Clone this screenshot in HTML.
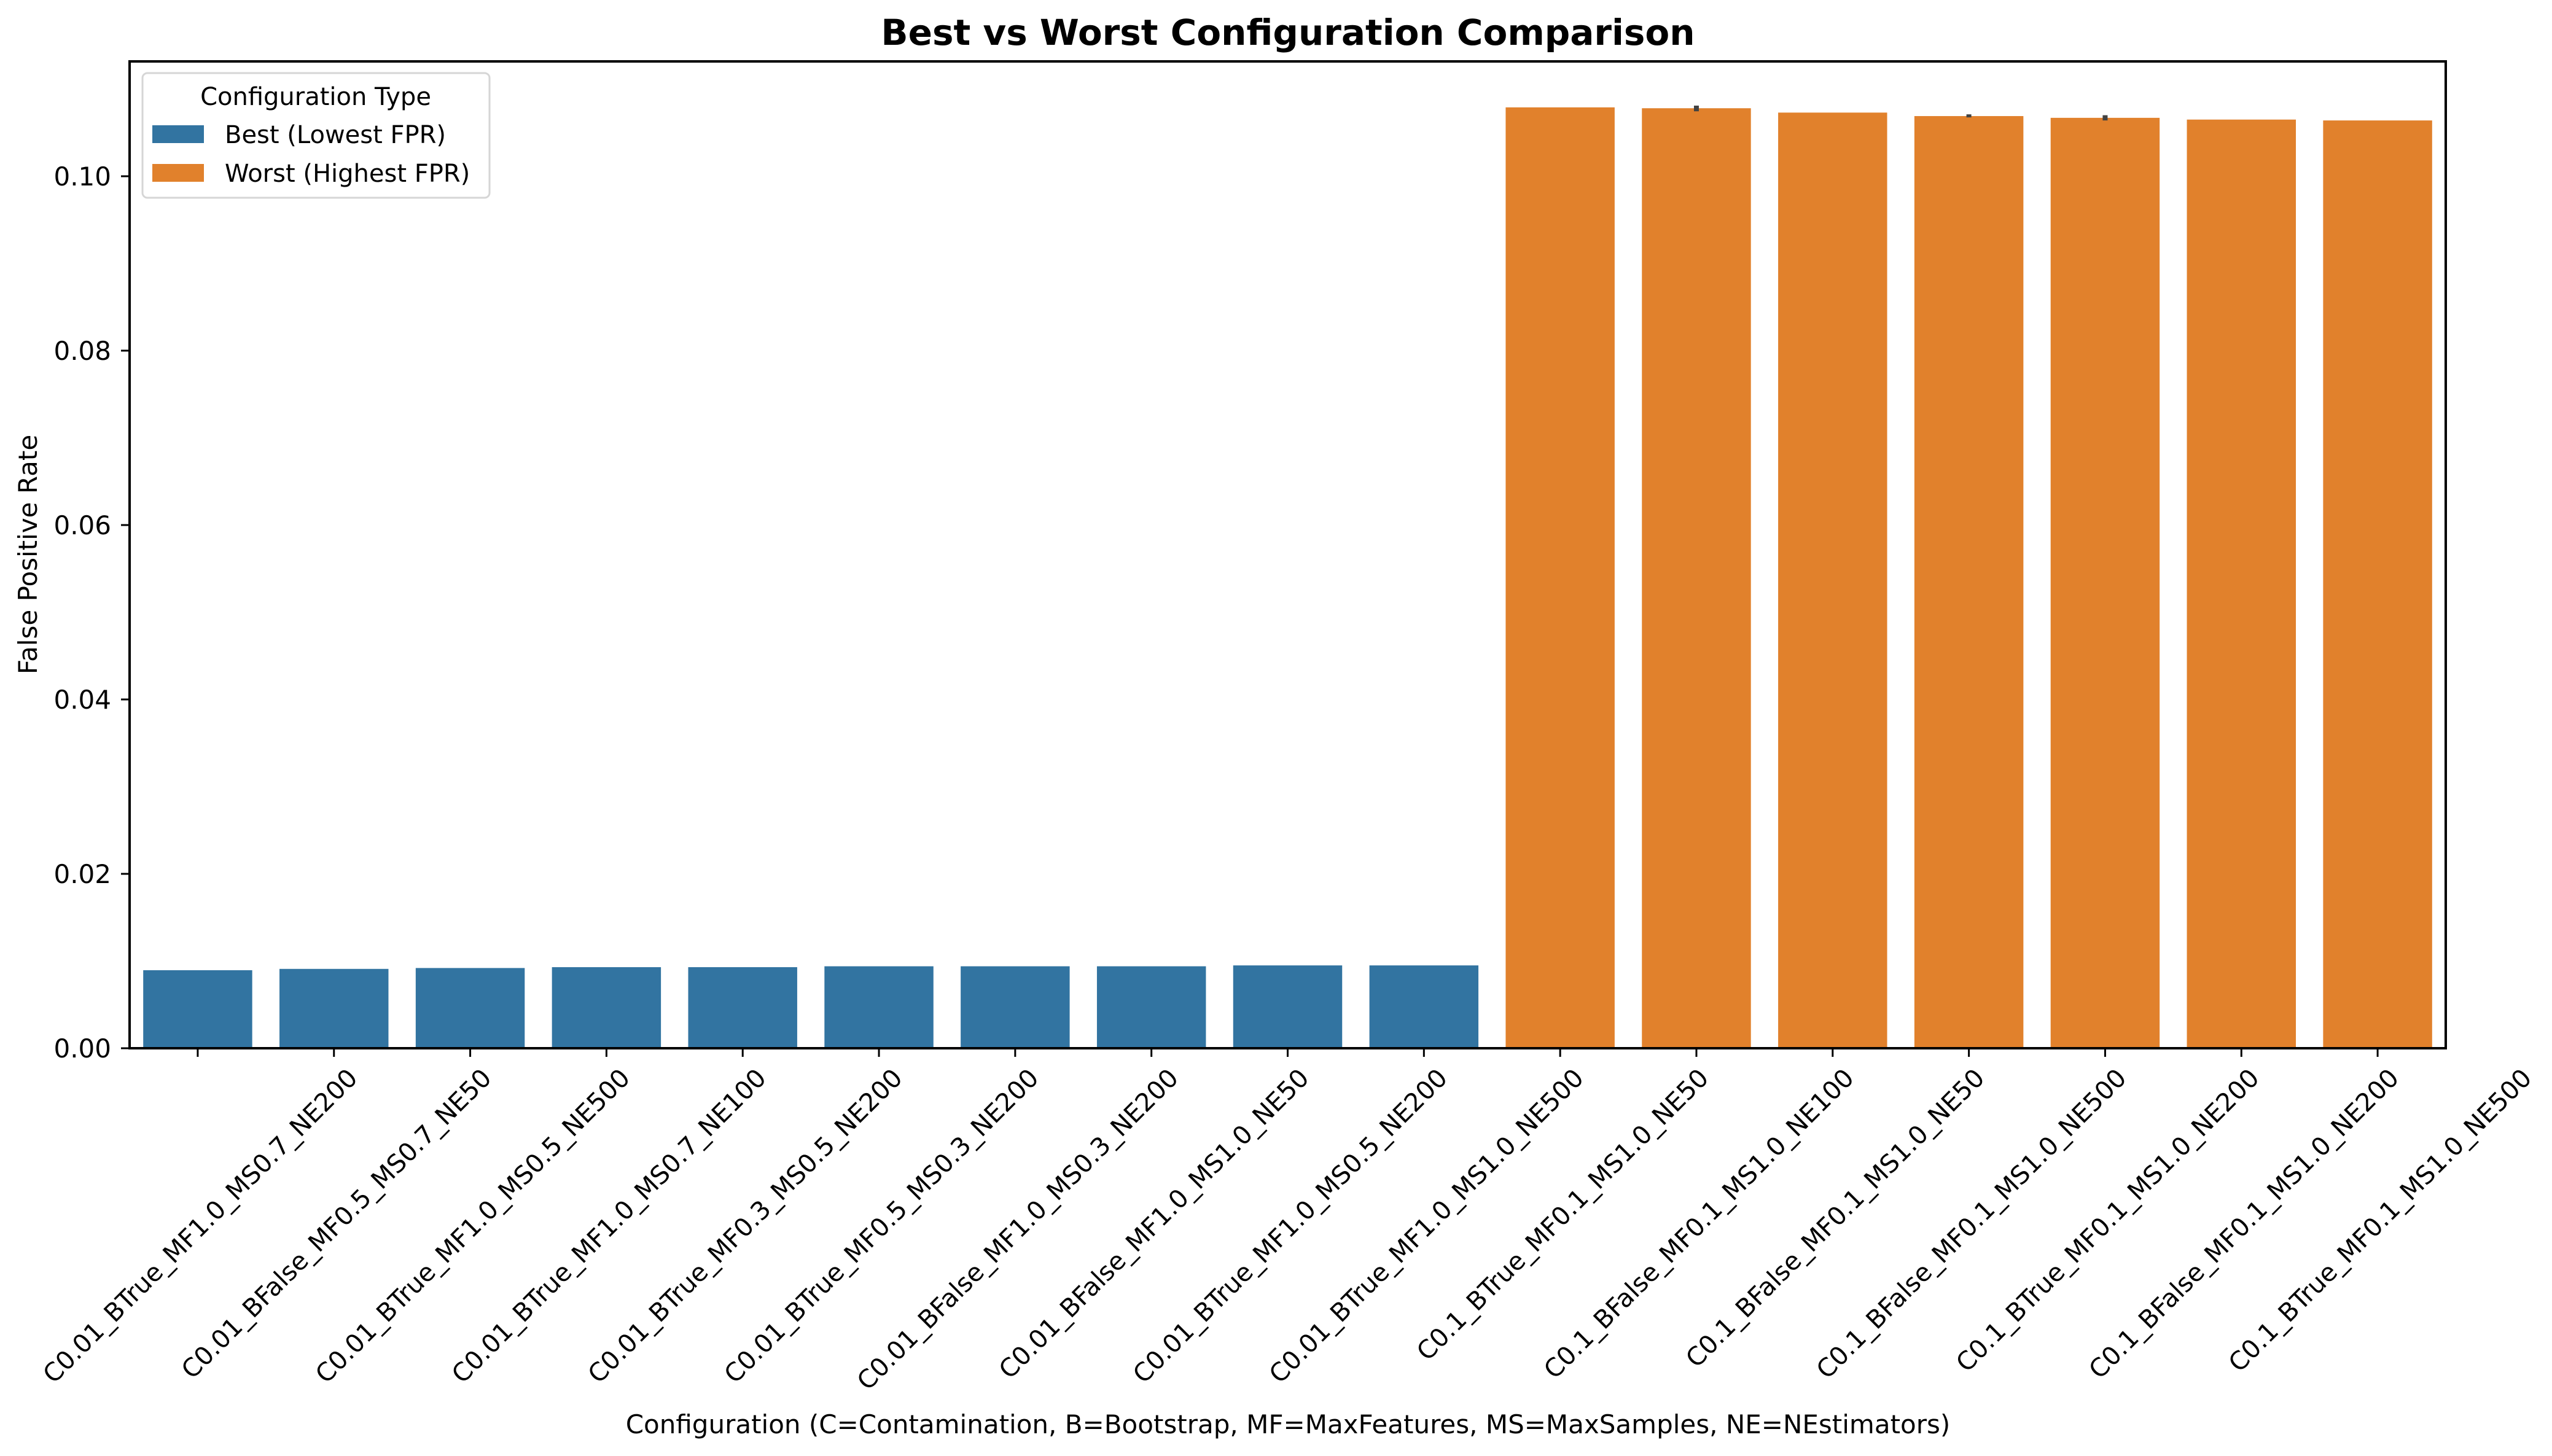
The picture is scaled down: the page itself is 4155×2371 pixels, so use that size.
<!DOCTYPE html>
<html><head><meta charset="utf-8"><style>
html,body{margin:0;padding:0;background:#fff}
svg{display:block;font-family:"DejaVu Sans","Liberation Sans",sans-serif}
</style></head><body>
<svg id="chart" width="4155" height="2371" viewBox="0 0 4155 2371" xmlns="http://www.w3.org/2000/svg">
<rect width="4155" height="2371" fill="#fff"/>
<text x="2097" y="73" text-anchor="middle" font-size="58" font-weight="bold">Best vs Worst Configuration Comparison</text>
<g id="bars"></g>
<g id="errs"></g>
<g id="yaxis"></g>
<g id="xaxis"></g>
<rect x="211" y="100" width="3771" height="1607" fill="none" stroke="#000" stroke-width="4"/>
<text transform="translate(60,903) rotate(-90)" text-anchor="middle" font-size="42">False Positive Rate</text>
<text x="2097" y="2334" text-anchor="middle" font-size="42">Configuration (C=Contamination, B=Bootstrap, MF=MaxFeatures, MS=MaxSamples, NE=NEstimators)</text>
<g>
<rect x="232" y="119" width="565" height="203" rx="8" fill="#fff" fill-opacity="0.8" stroke="#d6d6d6" stroke-width="3"/>
<text x="514" y="171" text-anchor="middle" font-size="40">Configuration Type</text>
<rect x="248" y="204" width="84" height="29" fill="#3274a1"/>
<text x="366" y="233" font-size="40">Best (Lowest FPR)</text>
<rect x="248" y="267" width="84" height="29" fill="#e1812c"/>
<text x="366" y="296" font-size="40">Worst (Highest FPR)</text>
</g>
</svg>
<script>
const categories = ["C0.01_BTrue_MF1.0_MS0.7_NE200","C0.01_BFalse_MF0.5_MS0.7_NE50","C0.01_BTrue_MF1.0_MS0.5_NE500","C0.01_BTrue_MF1.0_MS0.7_NE100","C0.01_BTrue_MF0.3_MS0.5_NE200","C0.01_BTrue_MF0.5_MS0.3_NE200","C0.01_BFalse_MF1.0_MS0.3_NE200","C0.01_BFalse_MF1.0_MS1.0_NE50","C0.01_BTrue_MF1.0_MS0.5_NE200","C0.01_BTrue_MF1.0_MS1.0_NE500","C0.1_BTrue_MF0.1_MS1.0_NE50","C0.1_BFalse_MF0.1_MS1.0_NE100","C0.1_BFalse_MF0.1_MS1.0_NE50","C0.1_BFalse_MF0.1_MS1.0_NE500","C0.1_BTrue_MF0.1_MS1.0_NE200","C0.1_BFalse_MF0.1_MS1.0_NE200","C0.1_BTrue_MF0.1_MS1.0_NE500"];
const groups = ["best","best","best","best","best","best","best","best","best","best","worst","worst","worst","worst","worst","worst","worst"];
const values = [0.00895,0.0091,0.0092,0.0093,0.0093,0.0094,0.0094,0.0094,0.0095,0.0095,0.1079,0.1078,0.1073,0.1069,0.1067,0.1065,0.1064];
const errLow = [0,0,0,0,0,0,0,0,0,0,0,0.10745,0,0.10675,0.1064,0,0];
const errHigh = [0,0,0,0,0,0,0,0,0,0,0,0.1081,0,0.1071,0.1070,0,0];
const yTicks = [0.00,0.02,0.04,0.06,0.08,0.10];
const yTickLabels = ["0.00","0.02","0.04","0.06","0.08","0.10"];

const NS="http://www.w3.org/2000/svg";
const X0=211, X1=3982, Y0=1707, YMAX=0.11317;
const step=(X1-X0)/categories.length;
function xc(i){return X0+step*(i+0.5);}
function y(v){return Y0-(v/YMAX)*(Y0-100);}
const colors={best:"#3274a1",worst:"#e1812c"};
function mk(tag,attrs,parent){const e=document.createElementNS(NS,tag);for(const k in attrs)e.setAttribute(k,attrs[k]);parent.appendChild(e);return e;}
const bars=document.getElementById('bars');
values.forEach((v,i)=>{
  const w=step*0.8;
  const r=mk('rect',{x:xc(i)-w/2,y:y(v),width:w,height:Y0-y(v),fill:colors[groups[i]]},bars);
  
  
});
const errs=document.getElementById('errs');
errLow.forEach((lo,i)=>{
  if(!lo)return;
  const l=mk('line',{x1:xc(i),x2:xc(i),y1:y(lo),y2:y(errHigh[i]),stroke:'#424242',"stroke-width":8},errs);
  
  
});
const ya=document.getElementById('yaxis');
yTicks.forEach((t,i)=>{
  const l=mk('line',{x1:X0-14,x2:X0,y1:y(t),y2:y(t),stroke:'#000',"stroke-width":3},ya);
  
  
  const tx=mk('text',{x:X0-30,y:y(t)+15,"text-anchor":"end","font-size":42},ya);
  tx.textContent=yTickLabels[i];
  
  
});
const xa=document.getElementById('xaxis');
categories.forEach((c,i)=>{
  const l=mk('line',{x1:xc(i),x2:xc(i),y1:Y0,y2:Y0+14,stroke:'#000',"stroke-width":3},xa);
  
  
  const tx=mk('text',{"text-anchor":"middle","font-size":41},xa);
  tx.textContent=c;
  
  
  const L=tx.getComputedTextLength();
  const half=L*0.7071/2;
  const cy=1740+half+8;
  tx.setAttribute('transform','translate('+(xc(i)+4)+','+cy+') rotate(-45) translate(0,14)');
});
</script>
</body></html>
